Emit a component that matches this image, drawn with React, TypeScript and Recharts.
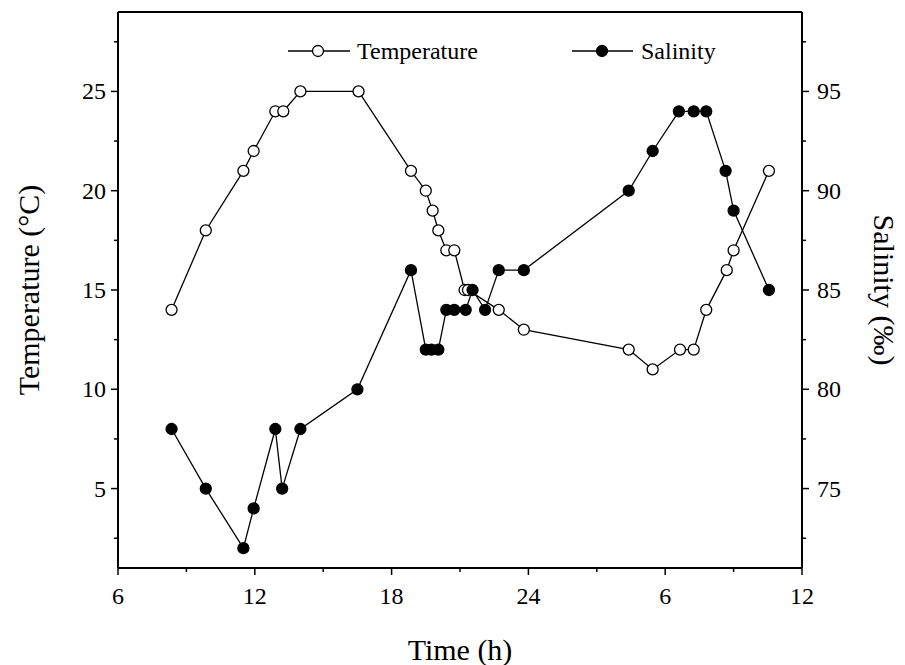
import React from "react";
import {
  Legend,
  Line,
  LineChart,
  ReferenceLine,
  XAxis,
  YAxis,
} from "recharts";

// sampling times in hours, continuing past midnight (30 = 6 h, 36 = 12 h next day)
const tempTimes = [
  8.35, 9.85, 11.5, 11.95, 12.9, 13.25, 14.0, 16.55, 18.85, 19.5, 19.8, 20.05,
  20.4, 20.75, 21.2, 21.35, 22.7, 23.8, 28.4, 29.45, 30.65, 31.25, 31.8, 32.7,
  33.0, 34.55,
];
const temperature = [
  14, 18, 21, 22, 24, 24, 25, 25, 21, 20, 19, 18, 17, 17, 15, 15, 14, 13, 12,
  11, 12, 12, 14, 16, 17, 21,
];

const salTimes = [
  8.35, 9.85, 11.5, 11.95, 12.9, 13.2, 14.0, 16.5, 18.85, 19.5, 19.75, 20.05,
  20.4, 20.75, 21.25, 21.55, 22.1, 22.7, 23.8, 28.4, 29.45, 30.6, 31.25, 31.8,
  32.65, 33.0, 34.55,
];
const salinity = [
  78, 75, 72, 74, 78, 75, 78, 80, 86, 82, 82, 82, 84, 84, 84, 85, 84, 86, 86,
  90, 92, 94, 94, 94, 91, 89, 85,
];

const timeTicks = [6, 9, 12, 15, 18, 21, 24, 27, 30, 33, 36];
const tempTicks = [2.5, 5, 7.5, 10, 12.5, 15, 17.5, 20, 22.5, 25, 27.5];
const salTicks = [72.5, 75, 77.5, 80, 82.5, 85, 87.5, 90, 92.5, 95, 97.5];

const FONT = "'Liberation Serif', 'Times New Roman', serif";
const INK = "#000";

const tempData = tempTimes.map((h, i) => ({ h, value: temperature[i] }));
const salData = salTimes.map((h, i) => ({ h, value: salinity[i] }));

const isMajor = (v: number) => Math.abs(v % 5) < 1e-6;

function TimeTick(props: any) {
  const { x, y, payload } = props;
  const v = payload.value as number;
  const major = v % 6 === 0;
  return (
    <g>
      <line x1={x} x2={x} y1={y} y2={y + (major ? 7 : 4)} stroke={INK} strokeWidth={1.5} />
      {major ? (
        <text x={x} y={y + 36} textAnchor="middle" fontFamily={FONT} fontSize={24} fill={INK}>
          {v > 24 ? v - 24 : v}
        </text>
      ) : null}
    </g>
  );
}

function LeftTick(props: any) {
  const { x, y, payload } = props;
  const v = payload.value as number;
  const major = isMajor(v);
  return (
    <g>
      <line x1={x} x2={x - (major ? 7 : 4)} y1={y} y2={y} stroke={INK} strokeWidth={1.5} />
      {major ? (
        <text x={x - 12} y={y + 8} textAnchor="end" fontFamily={FONT} fontSize={24} fill={INK}>
          {v}
        </text>
      ) : null}
    </g>
  );
}

function RightTick(props: any) {
  const { x, y, payload } = props;
  const v = payload.value as number;
  const major = isMajor(v);
  return (
    <g>
      <line x1={x} x2={x + (major ? 7 : 4)} y1={y} y2={y} stroke={INK} strokeWidth={1.5} />
      {major ? (
        <text x={x + 15} y={y + 8} textAnchor="start" fontFamily={FONT} fontSize={24} fill={INK}>
          {v}
        </text>
      ) : null}
    </g>
  );
}

function LegendBox() {
  return (
    <svg width={905} height={80}>
      <g fontFamily={FONT} fontSize={24} fill={INK}>
        <line x1={288} x2={350} y1={51} y2={51} stroke={INK} strokeWidth={1.3} />
        <circle cx={318} cy={51} r={5.5} fill="#fff" stroke={INK} strokeWidth={1.3} />
        <text x={357} y={59}>Temperature</text>
        <line x1={572} x2={633} y1={51} y2={51} stroke={INK} strokeWidth={1.3} />
        <circle cx={602} cy={51} r={5.5} fill={INK} stroke={INK} strokeWidth={1.3} />
        <text x={641} y={59}>Salinity</text>
      </g>
    </svg>
  );
}

export default function App() {
  return (
    <div style={{ position: "fixed", left: 0, top: 0, width: 905, height: 665, background: "#fff" }}>
      <LineChart
        width={905}
        height={665}
        margin={{ top: 12, right: 0, bottom: 0, left: 0 }}
      >
        <XAxis
          type="number"
          dataKey="h"
          domain={[6, 36]}
          ticks={timeTicks}
          allowDataOverflow
          height={97}
          tickSize={0}
          tickMargin={0}
          tickLine={false}
          tick={<TimeTick />}
          axisLine={{ stroke: INK, strokeWidth: 2 }}
          interval={0}
          label={({ viewBox }: any) => (
            <text
              x={viewBox.x + viewBox.width / 2}
              y={660}
              textAnchor="middle"
              fontFamily={FONT}
              fontSize={30}
              fill={INK}
            >
              Time (h)
            </text>
          )}
        />
        <YAxis
          yAxisId="left"
          type="number"
          dataKey="value"
          domain={[1, 29]}
          ticks={tempTicks}
          allowDataOverflow
          width={118}
          tickSize={0}
          tickMargin={0}
          tickLine={false}
          tick={<LeftTick />}
          axisLine={{ stroke: INK, strokeWidth: 2 }}
          interval={0}
          label={({ viewBox }: any) => {
            const cy = viewBox.y + viewBox.height / 2;
            return (
              <text
                x={28}
                y={cy}
                transform={`rotate(-90 28 ${cy})`}
                textAnchor="middle"
                dominantBaseline="central"
                fontFamily={FONT}
                fontSize={30}
                fill={INK}
              >
                Temperature (°C)
              </text>
            );
          }}
        />
        <YAxis
          yAxisId="right"
          orientation="right"
          type="number"
          dataKey="value"
          domain={[71, 99]}
          ticks={salTicks}
          allowDataOverflow
          width={103}
          tickSize={0}
          tickMargin={0}
          tickLine={false}
          tick={<RightTick />}
          axisLine={{ stroke: INK, strokeWidth: 2 }}
          interval={0}
          label={({ viewBox }: any) => {
            const cy = viewBox.y + viewBox.height / 2;
            return (
              <text
                x={884}
                y={cy}
                transform={`rotate(90 884 ${cy})`}
                textAnchor="middle"
                dominantBaseline="central"
                fontFamily={FONT}
                fontSize={30}
                fill={INK}
              >
                Salinity (‰)
              </text>
            );
          }}
        />
        <ReferenceLine yAxisId="left" y={29} stroke={INK} strokeWidth={2} ifOverflow="visible" />
        <Line
          yAxisId="left"
          data={tempData}
          dataKey="value"
          name="Temperature"
          stroke={INK}
          strokeWidth={1.3}
          dot={{ r: 5.5, fill: "#fff", stroke: INK, strokeWidth: 1.3 }}
          activeDot={false}
          isAnimationActive={false}
        />
        <Line
          yAxisId="right"
          data={salData}
          dataKey="value"
          name="Salinity"
          stroke={INK}
          strokeWidth={1.3}
          dot={{ r: 5.5, fill: INK, stroke: INK, strokeWidth: 1.3 }}
          activeDot={false}
          isAnimationActive={false}
        />
        <Legend
          verticalAlign="middle"
          align="center"
          layout="horizontal"
          wrapperStyle={{ position: "absolute", left: 0, top: 0, width: 905, height: 80 }}
          content={() => <LegendBox />}
        />
      </LineChart>
    </div>
  );
}
